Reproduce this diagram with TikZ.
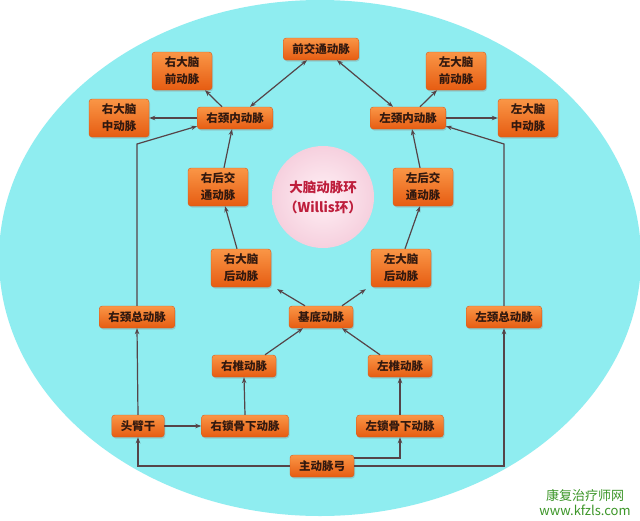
\documentclass[tikz,border=0pt]{standalone}
\usepackage{fontspec}
\newfontfamily\cjk{Noto Sans CJK SC}
\usetikzlibrary{arrows.meta,shadows,calc}

\definecolor{sea}{RGB}{143,237,240}
\definecolor{boxtop}{RGB}{250,150,70}
\definecolor{boxbot}{RGB}{230,92,18}
\definecolor{boxtext}{RGB}{50,25,15}
\definecolor{boxedge}{RGB}{215,90,25}
\definecolor{linkgray}{RGB}{85,68,72}
\definecolor{pinkin}{RGB}{255,240,245}
\definecolor{pinkout}{RGB}{246,208,222}
\definecolor{ringtext}{RGB}{190,30,60}
\definecolor{markgreen}{RGB}{60,150,40}

\begin{document}
\begin{tikzpicture}[
  x=1pt, y=-1pt,
  font=\cjk\bfseries\fontsize{11.5}{14}\selectfont,
  >={Stealth[length=6pt,width=4.5pt]},
  artery/.style={rectangle, rounded corners=3pt, draw=boxedge, line width=0.4pt,
                 top color=boxtop, bottom color=boxbot, text=boxtext,
                 inner xsep=9pt, inner ysep=3pt, minimum height=22pt,
                 drop shadow={opacity=0.3, shadow xshift=1pt, shadow yshift=-1.5pt}},
  twoline/.style={artery, align=center, minimum width=60pt, minimum height=38pt,
                  font=\cjk\bfseries\fontsize{11.5}{17}\selectfont},
  ring/.style={circle, minimum size=102pt, inner color=pinkin, outer color=pinkout,
               text=ringtext, align=center, font=\cjk\bfseries\fontsize{13.5}{20}\selectfont},
  link/.style={->, line width=1.2pt, draw=linkgray},
  both/.style={<->, line width=1.2pt, draw=linkgray},
  sitemark/.style={text=markgreen, inner sep=0pt, font=\cjk\fontsize{13}{15}\selectfont},
]
\useasboundingbox (0,0) rectangle (640,520);
\fill[white] (0,0) rectangle (640,520);
\fill[sea] (320,258) ellipse [x radius=321pt, y radius=258pt];

% circle of Willis, top
\node[artery]  (acoa) at (321,49)  {前交通动脉};
\node[twoline] (raca) at (182,71)  {右大脑\\前动脉};
\node[twoline] (laca) at (456,71)  {左大脑\\前动脉};
\node[artery]  (rica) at (235,118) {右颈内动脉};
\node[artery]  (lica) at (408,118) {左颈内动脉};
\node[twoline] (rmca) at (119,118) {右大脑\\中动脉};
\node[twoline] (lmca) at (528,118) {左大脑\\中动脉};
\node[twoline] (rpcoa) at (218,187) {右后交\\通动脉};
\node[twoline] (lpcoa) at (423,187) {左后交\\通动脉};
\node[ring]    (willis) at (323,197) {大脑动脉环\\（Willis环）};
\node[twoline] (rpca) at (241,268) {右大脑\\后动脉};
\node[twoline] (lpca) at (401,268) {左大脑\\后动脉};
\node[artery]  (basilar) at (321,317) {基底动脉};

% supply from below
\node[artery] (rcca) at (137,317) {右颈总动脉};
\node[artery] (lcca) at (504,317) {左颈总动脉};
\node[artery] (rva)  at (244,366) {右椎动脉};
\node[artery] (lva)  at (400,366) {左椎动脉};
\node[artery] (bct)  at (138,426) {头臂干};
\node[artery] (rsub) at (245,426) {右锁骨下动脉};
\node[artery] (lsub) at (400,426) {左锁骨下动脉};
\node[artery] (arch) at (322,466) {主动脉弓};

\coordinate (rtop) at (137,144);
\coordinate (ltop) at (504,144);

\draw[both] ([xshift=15pt]rica.north) -- ([xshift=-14pt]acoa.south);
\draw[both] ([xshift=-15pt]lica.north) -- ([xshift=16pt]acoa.south);
\draw[link] ([xshift=-13pt]rica.north) -- ([xshift=23pt]raca.south);
\draw[link] ([xshift=12pt]lica.north) -- ([xshift=-19pt]laca.south);
\draw[link] (rica.west) -- (rmca.east);
\draw[link] (lica.east) -- (lmca.west);

\draw[link] (rcca.north) -- (rtop) -- ([yshift=3pt]rica.south west);
\draw[link] (lcca.north) -- (ltop) -- ([yshift=3pt]lica.south east);

\draw[link] ([xshift=6pt]rpcoa.north) -- ([xshift=-3pt]rica.south);
\draw[link] ([xshift=-3pt]lpcoa.north) -- ([xshift=4pt]lica.south);
\draw[link] ([xshift=-4pt]rpca.north) -- ([xshift=7pt]rpcoa.south);
\draw[link] ([xshift=4pt]lpca.north) -- ([xshift=-3pt]lpcoa.south);

\draw[link] ([xshift=-16pt]basilar.north) -- ([xshift=6pt,yshift=-2pt]rpca.south east);
\draw[link] ([xshift=21pt]basilar.north) -- ([xshift=-5pt,yshift=-2pt]lpca.south west);
\draw[link] ([xshift=21pt]rva.north) -- ([xshift=-18pt]basilar.south);
\draw[link] ([xshift=-20pt]lva.north) -- ([xshift=21pt]basilar.south);

\draw[link] (rsub.north) -- (rva.south);
\draw[link] (lsub.north) -- (lva.south);
\draw[link] (bct.east) -- (rsub.west);
\draw[link] (bct.north) -- (rcca.south);

\draw[link] (arch.west) -| (bct.south);
\draw[link] ([yshift=8pt]arch.east) -| (lsub.south);
\draw[link] (arch.east) -| (lcca.south);

\node[sitemark] (mark1) at (585,495) {康复治疗师网};
\node[sitemark] (mark2) at (585,510) {www.kfzls.com};
\end{tikzpicture}
\end{document}
